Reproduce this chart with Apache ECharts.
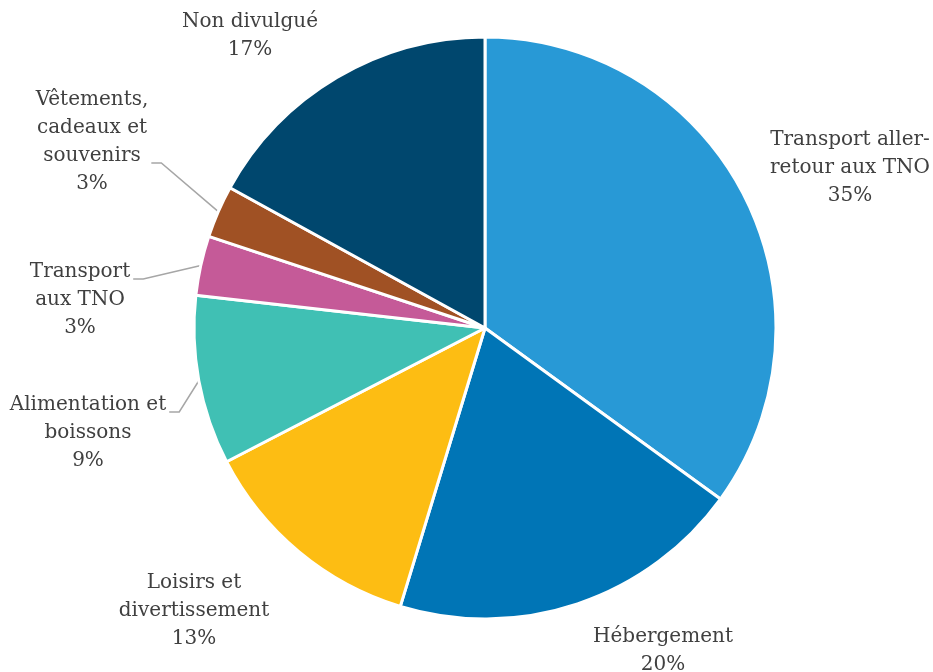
<!DOCTYPE html>
<html>
<head>
<meta charset="utf-8">
<script src="https://cdn.jsdelivr.net/npm/echarts@6/dist/echarts.min.js"></script>
<style>html,body{margin:0;padding:0;background:#fff}#c{width:933px;height:672px}</style>
</head>
<body>
<div id="c"></div>
<script>
// Data
const categories = [
  'Transport aller-\nretour aux TNO',
  'Hébergement',
  'Loisirs et\ndivertissement',
  'Alimentation et\nboissons',
  'Transport\naux TNO',
  'Vêtements,\ncadeaux et\nsouvenirs',
  'Non divulgué'
];
const values = [35.0, 19.7, 12.7, 9.4, 3.3, 2.9, 17.0];
const colors = ['#2899D6', '#0075B6', '#FDBD13', '#40C0B4', '#C55A98', '#A05124', '#00476E'];
const showGuide = [false, false, false, true, true, true, false];

// Layout (label anchor: centre x, top y) and guide-line row
const labelPos = [[850, 126], [663, 623], [194, 569], [88, 391], [80, 258], [92, 86], [250, 8]];
const guideRow = [0, 0, 0, 0, 0, 2, 0];
const LH = 28;

const chart = echarts.init(document.getElementById('c'));
chart.setOption({
  animation: false,
  backgroundColor: '#fff',
  series: [{
    type: 'pie',
    center: [485, 328],
    radius: 291,
    startAngle: 90,
    clockwise: true,
    avoidLabelOverlap: false,
    percentPrecision: 0,
    itemStyle: { borderColor: '#fff', borderWidth: 3 },
    label: {
      show: true,
      position: 'outside',
      formatter: '{b}\n{d}%',
      fontFamily: 'DejaVu Serif',
      fontSize: 20,
      lineHeight: LH,
      color: '#404040',
      align: 'center'
    },
    labelLine: { show: false, lineStyle: { color: '#A6A6A6', width: 1.5 } },
    labelLayout: function (p) {
      const i = p.dataIndex;
      const pos = labelPos[i];
      const res = { x: pos[0], y: pos[1], align: 'center', verticalAlign: 'top' };
      if (showGuide[i] && p.labelLinePoints) {
        const w = p.labelRect.width;
        const endX = pos[0] + w / 2 + 3;
        const y = pos[1] + LH * (guideRow[i] + 0.75);
        res.labelLinePoints = [p.labelLinePoints[0], [endX + 10, y], [endX, y]];
      }
      return res;
    },
    data: categories.map((c, i) => ({
      name: c,
      value: values[i],
      itemStyle: { color: colors[i] },
      labelLine: { show: showGuide[i] }
    }))
  }]
});
</script>
</body>
</html>
